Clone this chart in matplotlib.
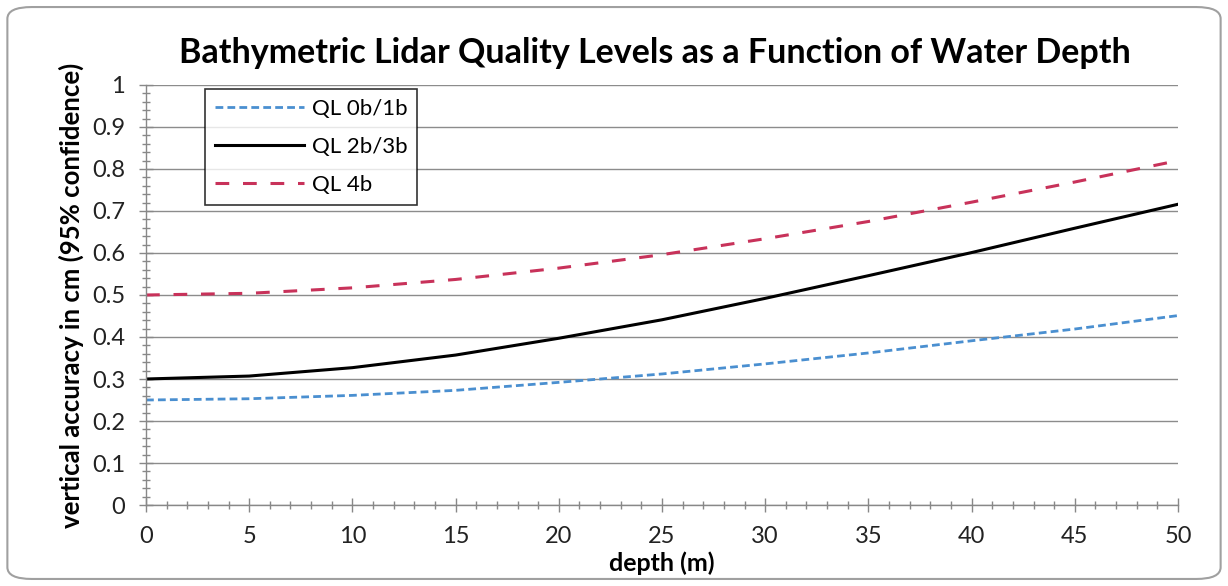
import matplotlib
matplotlib.use("Agg")
import matplotlib.pyplot as plt
from matplotlib.patches import FancyBboxPatch
from matplotlib.ticker import MultipleLocator

depth = [0, 5, 10, 15, 20, 25, 30, 35, 40, 45, 50]
ql0b1b = [0.250, 0.253, 0.261, 0.273, 0.292, 0.312, 0.336, 0.362, 0.391, 0.419, 0.451]
ql2b3b = [0.300, 0.307, 0.327, 0.357, 0.397, 0.441, 0.492, 0.546, 0.601, 0.659, 0.716]
ql4b = [0.500, 0.504, 0.517, 0.537, 0.564, 0.596, 0.634, 0.675, 0.721, 0.769, 0.820]
labels = ["QL 0b/1b", "QL 2b/3b", "QL 4b"]
xticks = [0, 5, 10, 15, 20, 25, 30, 35, 40, 45, 50]
yticks = [0, 0.1, 0.2, 0.3, 0.4, 0.5, 0.6, 0.7, 0.8, 0.9, 1]
ytick_labels = ["0", "0.1", "0.2", "0.3", "0.4", "0.5", "0.6", "0.7", "0.8", "0.9", "1"]

plt.rcParams['font.family'] = ['Lato', 'DejaVu Sans']

fig = plt.figure(figsize=(12.28, 5.86), dpi=100)
fig.patch.set_facecolor('white')
border = FancyBboxPatch((0.006, 0.012), 0.988, 0.976,
                        boxstyle="round,pad=0,rounding_size=0.02",
                        transform=fig.transFigure, fill=False,
                        edgecolor='#a0a0a0', linewidth=1.5, zorder=0)
fig.patches.append(border)

ax = fig.add_axes([0.1189, 0.1382, 0.8404, 0.7168])
ax.plot(depth, ql0b1b, color='#4a8fd0', linestyle=(0, (2.8, 1.5)), linewidth=2, label=labels[0])
ax.plot(depth, ql2b3b, color='black', linestyle='-', linewidth=2.2, label=labels[1])
ax.plot(depth, ql4b, color='#c8325a', linestyle=(0, (4.5, 4.5)), linewidth=2.2, label=labels[2])

ax.set_xlim(0, 50)
ax.set_ylim(0, 1)
ax.set_xticks(xticks)
ax.set_yticks(yticks)
ax.set_yticklabels(ytick_labels)
ax.xaxis.set_minor_locator(MultipleLocator(1))
ax.yaxis.set_minor_locator(MultipleLocator(0.02))
ax.tick_params(axis='both', which='major', direction='inout', length=10, width=1,
               color='#888888', labelsize=17, labelcolor='#222222', pad=10)
ax.tick_params(axis='both', which='minor', direction='inout', length=6, width=1,
               color='#888888')
ax.grid(axis='y', which='major', color='#8c8c8c', linewidth=1)
ax.set_axisbelow(True)
for s in ['top', 'right']:
    ax.spines[s].set_visible(False)
for s in ['left', 'bottom']:
    ax.spines[s].set_color('#888888')
    ax.spines[s].set_linewidth(1)

ax.set_xlabel("depth (m)", fontsize=18, fontweight='bold', labelpad=3)
ax.set_ylabel("vertical accuracy in cm (95% confidence)", fontsize=18.5, fontweight='bold', labelpad=6)
fig.text(0.533, 0.91, "Bathymetric Lidar Quality Levels as a Function of Water Depth",
         ha='center', va='center', fontsize=24.5, fontweight='bold')

leg = ax.legend(loc='upper left', bbox_to_anchor=(0.057, 0.99), fontsize=16,
                frameon=True, fancybox=False, edgecolor='black', handlelength=4.0,
                labelspacing=0.8, borderpad=0.45, handletextpad=0.35, borderaxespad=0)
leg.get_frame().set_linewidth(1.2)

fig.savefig("out.png", dpi=100, facecolor='white')
